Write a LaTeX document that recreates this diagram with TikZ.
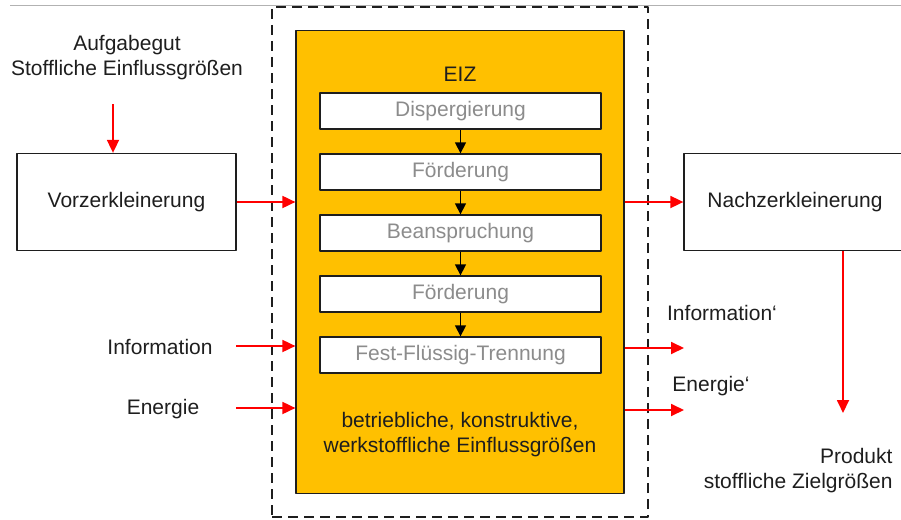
\documentclass[tikz,border=0pt]{standalone}
\usepackage{fontspec}
\setmainfont{Liberation Sans}
\usetikzlibrary{arrows.meta}
\definecolor{eizgelb}{HTML}{FFC000}
\definecolor{pfeilrot}{HTML}{FF0000}
\definecolor{textgrau}{HTML}{8C8C8C}
\definecolor{dunkel}{HTML}{1E1E1E}
\begin{document}
\begin{tikzpicture}[x=1pt,y=-1pt,line join=round,font=\fontsize{21}{25}\selectfont,text=dunkel,
	>={Triangle[length=13pt,width=12pt]},
	kasten/.style={draw=dunkel,line width=1.3pt,fill=white,minimum width=219pt,minimum height=97pt,inner sep=0pt},
	schritt/.style={draw=dunkel,line width=1.3pt,fill=white,text=textgrau,minimum width=281pt,minimum height=36pt,inner sep=0pt},
	rot/.style={->,draw=pfeilrot,line width=1.8pt},
	schwarz/.style={->,line width=1.3pt,>={Triangle[length=11pt,width=11pt]}}]
	\useasboundingbox (0,0) rectangle (901,519);
	\draw[black!30,line width=.8pt] (10,5) -- (901,5); % Linie oben
	% Systemgrenze und EIZ
	\node[draw=dunkel,line width=2pt,dash pattern=on 10pt off 6pt,minimum width=376pt,minimum height=510pt] (grenze) at (460,262) {};
	\node[draw=dunkel,line width=1.2pt,fill=eizgelb,minimum width=328pt,minimum height=463pt] (eiz) at (460,262) {};
	\node (eiztitel) at (460,74) {EIZ};
	\foreach \n/\t [count=\i from 0] in {s1/Dispergierung,s2/Förderung,s3/Beanspruchung,s4/Förderung,s5/Fest-Flüssig-Trennung}
		\node[schritt] (\n) at (460.5,111+61*\i) {\t};
	\foreach \a/\b in {s1/s2,s2/s3,s3/s4,s4/s5}
		\draw[schwarz] (\a) -- (\b);
	\node[align=center] (einfluss) at (460,435) {betriebliche, konstruktive,\\werkstoffliche Einflussgrößen};
	% Vor- und Nachzerkleinerung
	\node[kasten] (vor) at (126.5,202) {Vorzerkleinerung};
	\node[kasten,minimum width=222pt] (nach) at (795,202) {Nachzerkleinerung};
	\node[align=center] (aufgabe) at (127,58) {Aufgabegut\\Stoffliche Einflussgrößen};
	\node (info) at (160,347) {Information};
	\node (energie) at (163,409) {Energie};
	\node (infoS) at (722,313) {Information‘};
	\node (energieS) at (711,386) {Energie‘};
	\node[align=right,anchor=east] (produkt) at (896,471) {Produkt\\stoffliche Zielgrößen};
	% Pfeile
	\coordinate (aufE) at (113,104);
	\coordinate (infoE) at (236,346);
	\coordinate (energieE) at (236,408);
	\coordinate (infoA) at (684,348);
	\coordinate (energieA) at (684,410);
	\coordinate (prodA) at (843,413);
	\draw[rot] (aufE) -- (aufE |- vor.north);
	\draw[rot] (vor) -- (vor -| eiz.west);
	\draw[rot] (infoE) -- (infoE -| eiz.west);
	\draw[rot] (energieE) -- (energieE -| eiz.west);
	\draw[rot] (nach -| eiz.east) -- (nach.west);
	\draw[rot] (infoA -| eiz.east) -- (infoA);
	\draw[rot] (energieA -| eiz.east) -- (energieA);
	\draw[rot] (prodA |- nach.south) -- (prodA);
\end{tikzpicture}
\end{document}
